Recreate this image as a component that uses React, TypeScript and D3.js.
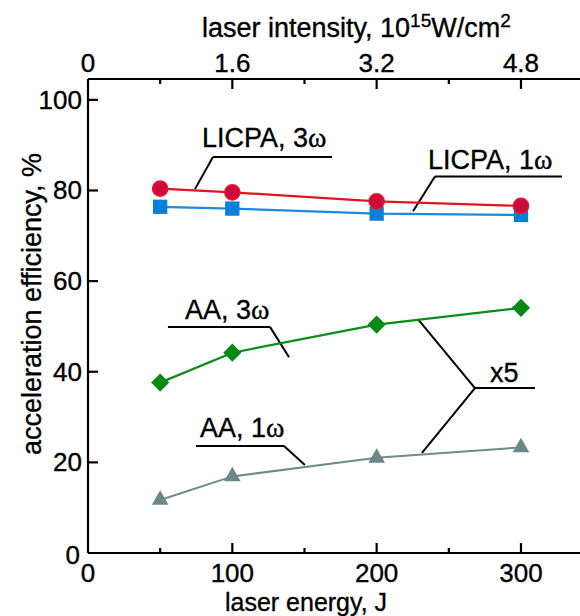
import React from "react";
import * as d3 from "d3";

const W = 580;
const H = 616;

// data
const energy = [50, 100, 200, 300];
const licpa3w = [80.4, 79.6, 77.6, 76.6];
const licpa1w = [76.4, 76.0, 74.9, 74.6];
const aa3w = [37.6, 44.2, 50.4, 54.1];
const aa1w = [11.7, 16.9, 21.0, 23.3];

const bottomTicks = [0, 100, 200, 300];
const bottomMinor = [50, 150, 250];
const topTicks = [0, 1.6, 3.2, 4.8];
const topTickLabels = ["0", "1.6", "3.2", "4.8"];
const topMinor = [0.8, 2.4, 4.0];
const leftTicks = [0, 20, 40, 60, 80, 100];

// annotations in data units (energy, %)
const labels = [
  { text: "LICPA, 3", sub: "ω", tx: 79, ty: 89.6, u: [86.6, 169.1, 87.4], leaders: [[86.6, 87.4, 74.1, 80.3]] },
  { text: "LICPA, 1", sub: "ω", tx: 235.6, ty: 84.8, u: [240.4, 328.4, 83.1], leaders: [[240.4, 83.1, 225.2, 75.4]] },
  { text: "AA, 3", sub: "ω", tx: 67.2, ty: 51.6, u: [55.4, 126.1, 49.9], leaders: [[126.1, 49.9, 139.3, 43.2]] },
  { text: "AA, 1", sub: "ω", tx: 77.6, ty: 25.6, u: [74.8, 135.8, 23.6], leaders: [[135.8, 23.6, 150.3, 19.4]] },
  { text: "x5", sub: "", tx: 278.5, ty: 37.7, u: [268.1, 309.7, 36.4], leaders: [[268.1, 36.4, 228.6, 51.6], [268.1, 36.4, 231.4, 22.1]] },
];

const FONT = "'Liberation Sans', Arial, Helvetica, sans-serif";

export default function App() {
  const x = d3.scaleLinear().domain([0, 340]).range([88, 578.7]);
  const xTop = d3.scaleLinear().domain([0, 340 * 1.6 / 100]).range([88, 578.7]);
  const y = d3.scaleLinear().domain([0, 104.6]).range([553, 79]);
  const line = d3.line<[number, number]>().x((d) => x(d[0])).y((d) => y(d[1]));
  const pts = (arr: number[]) => energy.map((e, i) => [e, arr[i]] as [number, number]);

  const sq = d3.symbol().type(d3.symbolSquare).size(205)()!;
  const diamond = d3.symbol().type(d3.symbolSquare).size(165)()!;
  const tri = d3.symbol().type(d3.symbolTriangle).size(120)()!;

  const axisColor = "#000";
  const fs = 26;
  const ft = 27;
  const txtStroke = { stroke: "#000", strokeWidth: 0.35 };

  return (
    <svg width={W} height={H} style={{ position: "absolute", left: 0, top: 0, background: "#fff" }} fontFamily={FONT}>
      {/* axes lines */}
      <line x1={x(0)} x2={W} y1={y(0)} y2={y(0)} stroke={axisColor} strokeWidth={2.2} />
      <line x1={x(0)} x2={W} y1={79} y2={79} stroke={axisColor} strokeWidth={2.2} />
      <line x1={x(0)} x2={x(0)} y1={79} y2={y(0)} stroke={axisColor} strokeWidth={2.2} />

      <g {...txtStroke}>
        {/* bottom ticks */}
        {bottomTicks.map((t) => (
          <g key={"b" + t}>
            {t !== 0 && <line x1={x(t)} x2={x(t)} y1={y(0)} y2={y(0) - 10} stroke="#000" strokeWidth={2.2} />}
            <text x={x(t)} y={582} textAnchor="middle" fontSize={fs}>{t}</text>
          </g>
        ))}
        {bottomMinor.map((t) => (
          <line key={"bm" + t} x1={x(t)} x2={x(t)} y1={y(0)} y2={y(0) - 5} stroke="#000" strokeWidth={2.2} />
        ))}
        <text x={306} y={610.5} textAnchor="middle" fontSize={25}>laser energy, J</text>

        {/* top ticks */}
        {topTicks.map((t, i) => (
          <g key={"t" + t}>
            {t !== 0 && <line x1={xTop(t)} x2={xTop(t)} y1={79} y2={89} stroke="#000" strokeWidth={2.2} />}
            <text x={xTop(t)} y={72} textAnchor="middle" fontSize={fs}>{topTickLabels[i]}</text>
          </g>
        ))}
        {topMinor.map((t) => (
          <line key={"tm" + t} x1={xTop(t)} x2={xTop(t)} y1={79} y2={84} stroke="#000" strokeWidth={2.2} />
        ))}
        <text x={202} y={37} fontSize={ft}>
          laser intensity, 10
          <tspan fontSize={19} dy={-10}>15</tspan>
          <tspan dy={10}>W/cm</tspan>
          <tspan fontSize={19} dy={-10}>2</tspan>
        </text>

        {/* left ticks */}
        {leftTicks.map((t) => (
          <g key={"l" + t}>
            {t !== 0 && <line x1={x(0)} x2={x(0) + 10} y1={y(t)} y2={y(t)} stroke="#000" strokeWidth={2.2} />}
            <text x={t === 0 ? 80 : 82} y={t === 0 ? y(t) + 11 : y(t) + 9} textAnchor="end" fontSize={fs}>{t}</text>
          </g>
        ))}
        <text transform={`translate(41,304) rotate(-90)`} textAnchor="middle" fontSize={ft}>acceleration efficiency, %</text>
      </g>

      {/* annotation leaders */}
      {labels.map((l, i) => (
        <g key={"a" + i}>
          <line x1={x(l.u[0])} x2={x(l.u[1])} y1={y(l.u[2])} y2={y(l.u[2])} stroke="#000" strokeWidth={2} />
          {l.leaders.map((s, j) => (
            <line key={j} x1={x(s[0])} y1={y(s[1])} x2={x(s[2])} y2={y(s[3])} stroke="#000" strokeWidth={2} />
          ))}
          <text x={x(l.tx)} y={y(l.ty)} fontSize={ft} {...txtStroke}>
            {l.text}
            {l.sub && <tspan fontFamily="'Liberation Serif', 'DejaVu Serif', serif" fontSize={28}>{l.sub}</tspan>}
          </text>
        </g>
      ))}

      {/* series */}
      <path d={line(pts(licpa1w))!} fill="none" stroke="#1a8ae0" strokeWidth={2.2} />
      {pts(licpa1w).map((p, i) => (
        <path key={"s" + i} d={sq} transform={`translate(${x(p[0])},${y(p[1])})`} fill="#0a7fd8" />
      ))}
      <path d={line(pts(licpa3w))!} fill="none" stroke="#e3141e" strokeWidth={2.2} />
      {pts(licpa3w).map((p, i) => (
        <circle key={"c" + i} cx={x(p[0])} cy={y(p[1])} r={7.6} fill="#cc0a3c" stroke="#e8182a" strokeWidth={1.5} />
      ))}
      <path d={line(pts(aa3w))!} fill="none" stroke="#0a8c18" strokeWidth={2.2} />
      {pts(aa3w).map((p, i) => (
        <path key={"d" + i} d={diamond} transform={`translate(${x(p[0])},${y(p[1])}) rotate(45)`} fill="#068a12" />
      ))}
      <path d={line(pts(aa1w))!} fill="none" stroke="#6f8c8c" strokeWidth={2} />
      {pts(aa1w).map((p, i) => (
        <path key={"t" + i} d={tri} transform={`translate(${x(p[0])},${y(p[1])})`} fill="#6a8888" />
      ))}
    </svg>
  );
}
